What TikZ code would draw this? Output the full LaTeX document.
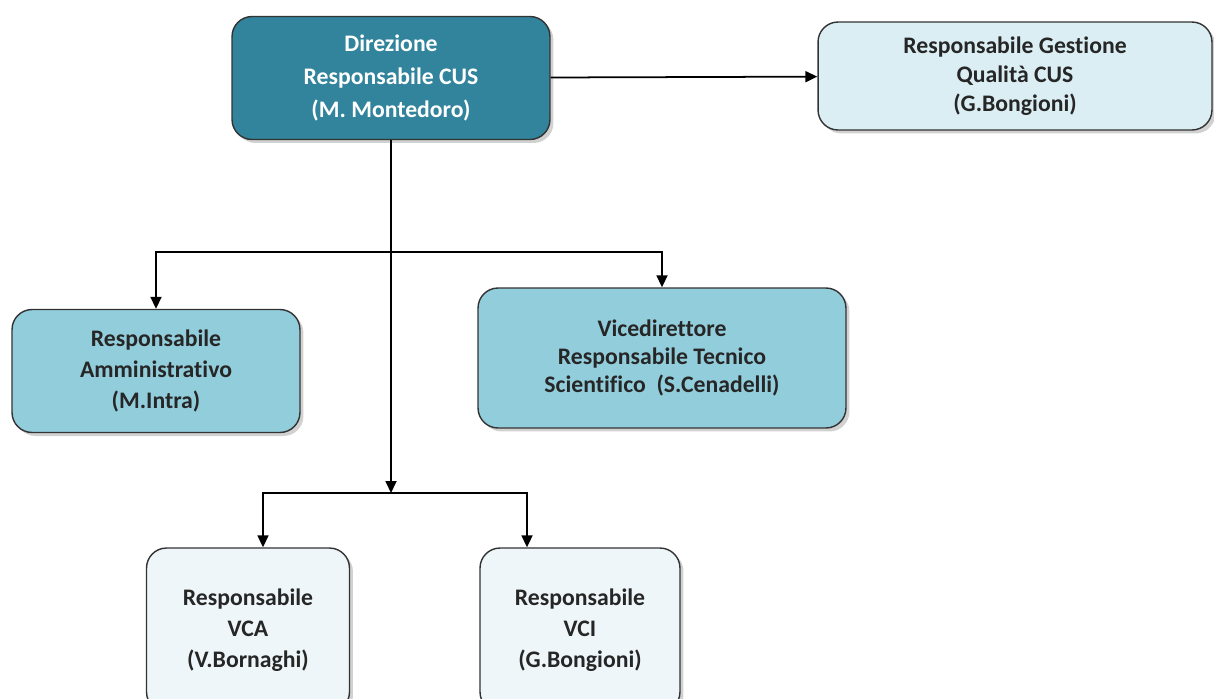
\documentclass[tikz,border=0pt]{standalone}
\usepackage{fontspec}
\setmainfont{Carlito}[Ligatures=NoCommon]
\usetikzlibrary{arrows.meta,shadows}
\definecolor{dirfill}{HTML}{31849B}
\definecolor{midfill}{HTML}{92CDDC}
\definecolor{lightfill}{HTML}{DAEEF3}
\definecolor{palefill}{HTML}{EEF6F9}
\tikzset{
  ufficio/.style={draw=black!80, line width=0.8pt, rounded corners=0.4cm,
    align=center, inner sep=0pt, text=black!85,
    font=\fontsize{13.5}{17.5}\selectfont\bfseries,
    drop shadow={shadow xshift=0.07cm, shadow yshift=-0.07cm, opacity=0.3, fill=black!60}},
  freccia/.style={-{Triangle[length=0.24cm,width=0.22cm]}, line width=1pt}
}
\begin{document}
\begin{tikzpicture}[x=0.02cm, y=-0.02cm]
                \useasboundingbox (0,0) rectangle (1214,698);
                \node[ufficio, fill=dirfill, text=white, minimum width=6.36cm, minimum height=2.46cm, font=\fontsize{13.5}{18.8}\selectfont\bfseries] (dir) at (391,78) {Direzione\\Responsabile CUS\\(M. Montedoro)};
                \node[ufficio, fill=lightfill, minimum width=7.88cm, minimum height=2.16cm, font=\fontsize{13.5}{16.5}\selectfont\bfseries] (ges) at (1015,76) {Responsabile Gestione\\Qualità CUS\\(G.Bongioni)};
                \node[ufficio, fill=midfill, minimum width=5.76cm, minimum height=2.46cm] (amm) at (156,371) {Responsabile\\Amministrativo\\(M.Intra)};
                \node[ufficio, fill=midfill, minimum width=7.36cm, minimum height=2.8cm, font=\fontsize{13.5}{16}\selectfont\bfseries] (vic) at (662,358) {Vicedirettore\\Responsabile Tecnico\\Scientifico~~(S.Cenadelli)};
                \node[ufficio, fill=palefill, minimum width=4.06cm, minimum height=3.28cm] (vca) at (248,630) {Responsabile\\VCA\\(V.Bornaghi)};
                \node[ufficio, fill=palefill, minimum width=4cm, minimum height=3.28cm] (vci) at (580,630) {Responsabile\\VCI\\(G.Bongioni)};
                \coordinate (ramo) at (391,252);
                \coordinate (nodo) at (391,493);
                \draw [freccia] (dir) -- (ges);
                \draw [freccia] (dir.south) -- (nodo);
                \draw [freccia] (ramo) -| (amm.north);
                \draw [freccia] (ramo) -| (vic.north);
                \draw [freccia] (nodo) -| ([xshift=0.3cm]vca.north);
                \draw [freccia] (nodo) -| ([xshift=-1.06cm]vci.north);
            \end{tikzpicture}
\end{document}
